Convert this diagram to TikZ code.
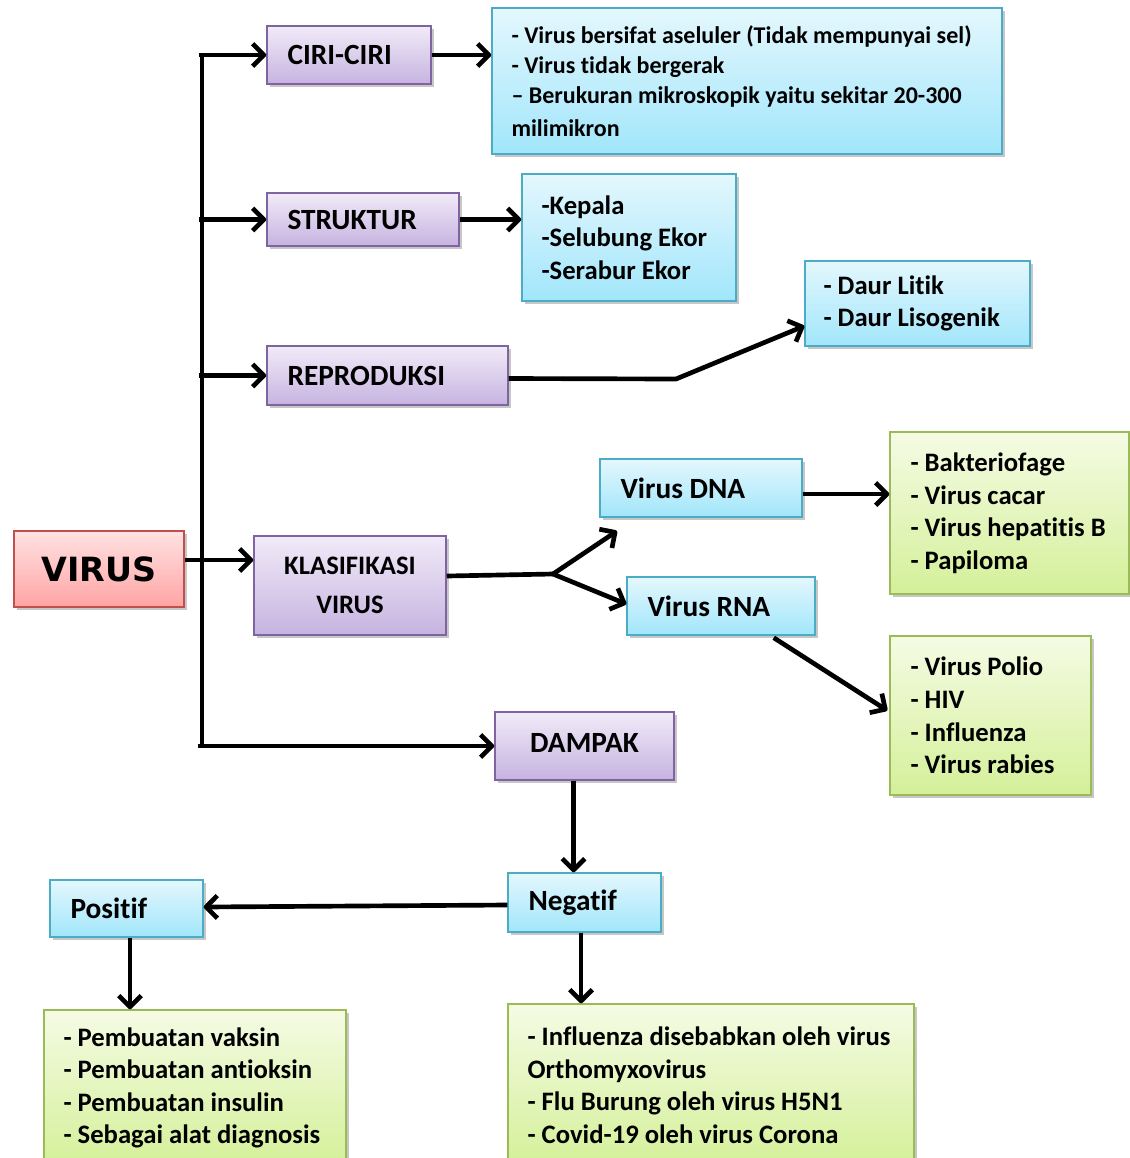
\documentclass[tikz,border=0pt]{standalone}
\usepackage{fontspec}
\setmainfont{Carlito}[Ligatures={TeX,NoCommon}]
\newfontfamily\heavyfont{DejaVu Sans}
\usetikzlibrary{arrows.meta,shadows,calc}
\definecolor{pTop}{HTML}{F1EBF8}
\definecolor{pBot}{HTML}{C6B3E0}
\definecolor{pBrd}{HTML}{8064A2}
\definecolor{bTop}{HTML}{E4F7FD}
\definecolor{bBot}{HTML}{A1E6FB}
\definecolor{bBrd}{HTML}{4BACC6}
\definecolor{gTop}{HTML}{F5FBE4}
\definecolor{gBot}{HTML}{D4F099}
\definecolor{gBrd}{HTML}{9BBB59}
\definecolor{rTop}{HTML}{FFE2E2}
\definecolor{rBot}{HTML}{FFA4A4}
\definecolor{rBrd}{HTML}{C0504D}
\newcommand\bx[9]{%
  \pgfmathsetlengthmacro\bw{(#6-#4)*0.75pt}%
  \pgfmathsetlengthmacro\bh{(#7-#5)*0.75pt}%
  \node[#1, minimum width=\bw, minimum height=\bh] (#3) at ({(#4+#6)/2},{(#5+#7)/2}) {};
  \node[#2, anchor=west] (#3t) at ($(#3.west)+(#8,0)$) {#9};}
\begin{document}
\begin{tikzpicture}[x=0.75pt,y=-0.75pt,
  box/.style={draw, line width=1.1pt, inner sep=0pt,
    drop shadow={shadow xshift=2pt, shadow yshift=-2.5pt, opacity=0.22, fill=black}},
  purplebox/.style={box, top color=pTop, bottom color=pBot, draw=pBrd},
  bluebox/.style={box, top color=bTop, bottom color=bBot, draw=bBrd},
  greenbox/.style={box, top color=gTop, bottom color=gBot, draw=gBrd},
  redbox/.style={box, top color=rTop, bottom color=rBot, draw=rBrd},
  txt/.style={inner sep=0pt, align=left, font=\bfseries\fontsize{20}{24.4}\selectfont},
  bigtxt/.style={inner sep=0pt, align=left, font=\bfseries\fontsize{22}{26}\selectfont},
  smalltxt/.style={inner sep=0pt, align=left, font=\bfseries\fontsize{18}{22.5}\selectfont},
  conn/.style={line width=3.5pt, line join=round},
  arr/.style={conn, -{Straight Barb[length=8.5pt,width=17pt,line join=round]}}
]
\useasboundingbox (0,0) rectangle (1130,1158);

% main boxes
\node[redbox, minimum width=127.5pt, minimum height=57pt,
  font=\heavyfont\bfseries\fontsize{25}{28}\selectfont] (virus) at (99,569) {VIRUS};
\bx{purplebox}{bigtxt}{ciri}{267}{26}{431}{84}{21}{CIRI-CIRI}
\bx{purplebox}{bigtxt}{strk}{267}{193}{459}{246}{21}{STRUKTUR}
\bx{purplebox}{bigtxt}{repro}{267}{346}{508}{405}{21}{REPRODUKSI}
\node[purplebox, minimum width=144pt, minimum height=74.25pt, align=center,
  font=\bfseries\fontsize{20}{29}\selectfont] (klas) at (350,585.5) {KLASIFIKASI\\VIRUS};
\node[purplebox, minimum width=134.25pt, minimum height=51pt,
  font=\bfseries\fontsize{22}{26}\selectfont] (dampak) at (584.5,746) {\raisebox{4pt}{DAMPAK}};

% info boxes
\node[bluebox, minimum width=382.5pt, minimum height=109.5pt] (cirib) at (747,81) {};
\node[smalltxt, anchor=west] (cirit) at ($(cirib.west)+(20,0)$)
  {- Virus bersifat aseluler (Tidak mempunyai sel)\\
   - Virus tidak bergerak\\
   – Berukuran mikroskopik yaitu sekitar 20-300\\[2pt]
   milimikron};
\bx{bluebox}{txt}{strkb}{522}{174}{736}{301}{20}{-Kepala\\-Selubung Ekor\\-Serabur Ekor}
\bx{bluebox}{txt}{reprob}{805}{261}{1030}{346}{19}{- Daur Litik\\- Daur Lisogenik}
\bx{bluebox}{bigtxt}{dna}{600}{459}{802}{517}{21}{Virus DNA}
\bx{bluebox}{bigtxt}{rna}{627}{577}{815}{635}{21}{Virus RNA}
\bx{greenbox}{txt}{dnal}{890}{432}{1129}{594}{21}{- Bakteriofage\\- Virus cacar\\- Virus hepatitis B\\- Papiloma}
\bx{greenbox}{txt}{rnal}{890}{636}{1091}{795}{21}{- Virus Polio\\- HIV\\- Influenza\\- Virus rabies}
\bx{bluebox}{bigtxt}{neg}{508}{873}{661}{932}{21}{Negatif}
\bx{bluebox}{bigtxt}{pos}{50}{880}{203}{937}{21}{Positif}
\bx{greenbox}{txt}{posl}{44}{1010}{346}{1166}{20}{- Pembuatan vaksin\\- Pembuatan antioksin\\- Pembuatan insulin\\- Sebagai alat diagnosis}
\bx{greenbox}{txt}{negl}{508}{1004}{914}{1166}{20}{- Influenza disebabkan oleh virus\\Orthomyxovirus\\- Flu Burung oleh virus H5N1\\- Covid-19 oleh virus Corona}

% trunk
\coordinate (ttop) at (202,53);
\coordinate (tbot) at (202,748);
\draw[conn] (ttop) -- (tbot);
\draw[arr] (ciri.west -| ttop) ++(-3,0) -- (ciri.west);
\draw[arr] (strk.west -| ttop) ++(-3,0) -- (strk.west);
\draw[arr] (repro.west -| ttop) ++(-3,0) -- (repro.west);
\draw[arr] ($(virus.east)+(0,-9)$) -- ($(virus.east -| klas.west)+(0,-9)$);
\draw[arr] ($(dampak.west -| tbot)+(-4,0)$) -- (dampak.west);

% branches
\draw[arr] (ciri.east) -- (ciri.east -| cirib.west);
\draw[arr] (strk.east) -- (strk.east -| strkb.west);
\coordinate (rbend) at (676,379);
\draw[arr] ($(repro.east)+(0,3)$) -- (rbend) -- ($(reprob.west)+(0,22.5)$);
\coordinate (kfork) at (553,574);
\coordinate (dnatip) at (617,531);
\draw[conn] ($(klas.east)+(0,-9.5)$) -- (kfork);
\draw[arr] (kfork) -- (dnatip);
\draw[arr] (kfork) -- ($(rna.west)+(0,-2)$);
\draw[arr] ($(dna.east)+(0,6)$) -- ($(dna.east -| dnal.west)+(0,6)$);
\draw[arr] ($(rna.south east)+(-42,2)$) -- ($(rnal.west)+(-2,-5)$);

% dampak
\draw[arr] ($(dampak.south)+(-11,0)$) -- ($(dampak.south |- neg.north)+(-11,0)$);
\draw[arr] ($(neg.west)+(0,2.5)$) -- ($(pos.east)+(0,-1.5)$);
\draw[arr] ($(pos.south)+(3.5,0)$) -- ($(pos.south |- posl.north)+(3.5,0)$);
\draw[arr] ($(neg.south)+(-3.5,0)$) -- ($(neg.south |- negl.north)+(-3.5,0)$);
\end{tikzpicture}
\end{document}
